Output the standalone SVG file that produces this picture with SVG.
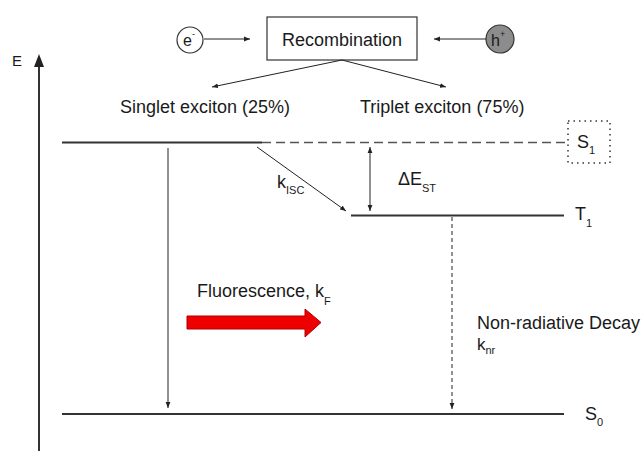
<svg xmlns="http://www.w3.org/2000/svg" width="643" height="451" viewBox="0 0 643 451">
<style>
text{font-family:"Liberation Sans",Arial,sans-serif;fill:#1a1a1a;font-size:18px}
.sub{font-size:11px}
.thin{stroke:#222;stroke-width:1;fill:none}
.lvl{stroke:#333;stroke-width:2.2;fill:none}
</style>
<defs>
<marker id="ah" viewBox="0 0 10 10" refX="10" refY="5" markerWidth="6" markerHeight="6" markerUnits="userSpaceOnUse" orient="auto-start-reverse">
<path d="M0,1 L10,5 L0,9 z" fill="#222"/>
</marker>
</defs>

<g id="axis">
<line x1="39" y1="451" x2="39" y2="58" stroke="#333" stroke-width="2"/>
<path d="M39,54 L44,67 L34,67 z" fill="#222"/>
<text x="12" y="66" style="font-size:15px">E</text>
</g>

<g id="electron">
<circle cx="190" cy="40" r="13" fill="#fff" stroke="#333" stroke-width="1.2"/>
<text x="183" y="46" style="font-size:16px">e<tspan dy="-9" style="font-size:9px">-</tspan></text>
</g>
<g id="hole">
<circle cx="500" cy="39" r="14" fill="#8c8c8c" stroke="#333" stroke-width="1.2"/>
<text x="491" y="46" style="font-size:16px">h<tspan dy="-9" style="font-size:9px">+</tspan></text>
</g>
<g id="recombination">
<rect x="267" y="17" width="150" height="43" fill="#fff" stroke="#333" stroke-width="1.2"/>
<text x="342" y="46" text-anchor="middle">Recombination</text>
</g>
<g id="singlet-label"><text x="120" y="113">Singlet exciton (25%)</text></g>
<g id="triplet-label"><text x="360" y="113">Triplet exciton (75%)</text></g>

<g id="S1">
<line class="lvl" x1="62" y1="142.5" x2="262" y2="142.5"/>
<line x1="262" y1="142.5" x2="567" y2="142.5" stroke="#555" stroke-width="1.5" stroke-dasharray="9,5"/>
<rect x="568" y="121" width="42" height="42" fill="none" stroke="#333" stroke-width="1.5" stroke-dasharray="1.5,4"/>
<text x="577" y="148">S<tspan class="sub" dy="6">1</tspan></text>
</g>
<g id="T1">
<line class="lvl" x1="351" y1="215.5" x2="564" y2="215.5"/>
<text x="575" y="220">T<tspan class="sub" dy="7">1</tspan></text>
</g>
<g id="S0">
<line class="lvl" x1="62" y1="414" x2="564" y2="414"/>
<text x="585" y="420">S<tspan class="sub" dy="6">0</tspan></text>
</g>

<g id="connectors">
<line class="thin" x1="204" y1="39" x2="250" y2="39" marker-end="url(#ah)"/>
<line class="thin" x1="486" y1="39" x2="434" y2="39" marker-end="url(#ah)"/>
<line class="thin" x1="342" y1="60" x2="212" y2="87" marker-end="url(#ah)"/>
<line class="thin" x1="342" y1="60" x2="446" y2="87" marker-end="url(#ah)"/>
<line class="thin" x1="257" y1="147" x2="346" y2="211" marker-end="url(#ah)"/>
<line class="thin" x1="370" y1="147" x2="370" y2="211" marker-start="url(#ah)" marker-end="url(#ah)"/>
<line class="thin" x1="168" y1="148" x2="168" y2="408" marker-end="url(#ah)"/>
<line class="thin" x1="452" y1="217" x2="452" y2="409" stroke-dasharray="4,3" marker-end="url(#ah)"/>
</g>

<g id="labels">
<text x="277" y="188">k<tspan class="sub" dy="6">ISC</tspan></text>
<text x="398" y="185">ΔE<tspan class="sub" dy="7">ST</tspan></text>
<text x="197" y="297">Fluorescence, k<tspan class="sub" dy="8">F</tspan></text>
<text x="477" y="329">Non-radiative Decay</text>
<text x="477" y="350" style="font-size:17px">k<tspan class="sub" dy="4">nr</tspan></text>
</g>

<g id="fluorescence-arrow">
<path d="M187,316 L305,316 L305,309 L321,322.5 L305,337 L305,329 L187,329 z" fill="#ee0000" stroke="#b00000" stroke-width="1"/>
</g>
</svg>
